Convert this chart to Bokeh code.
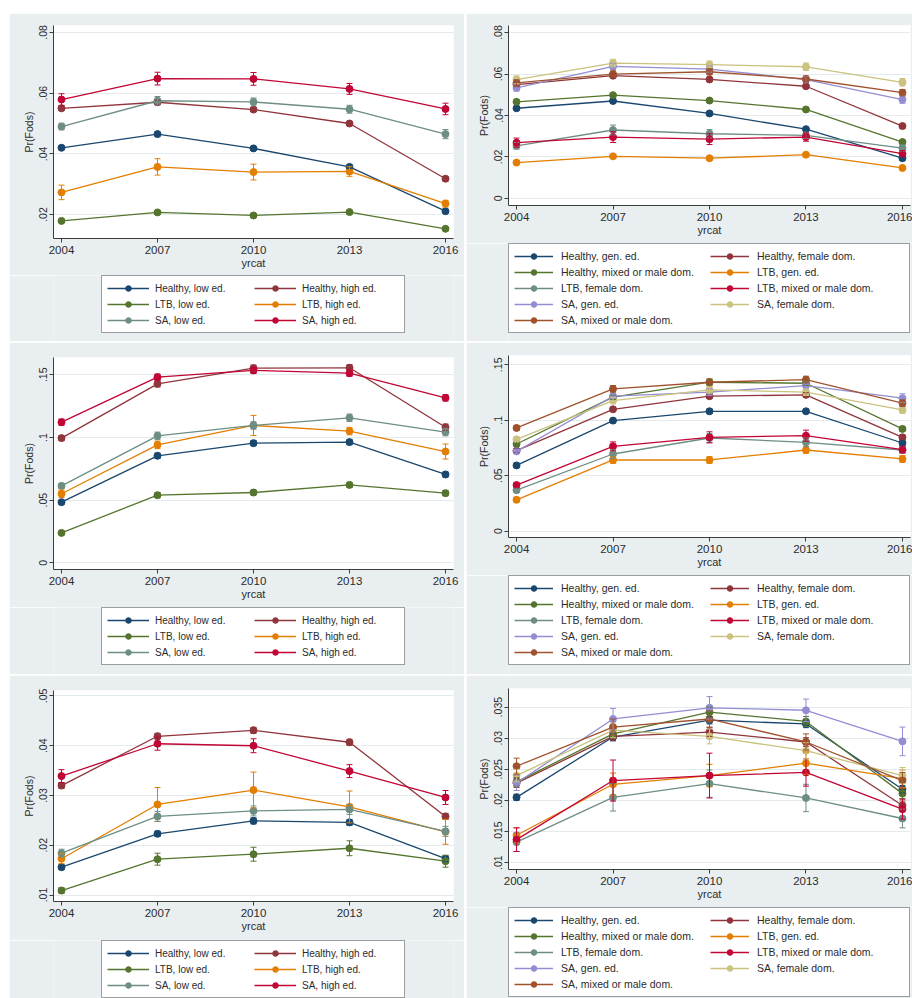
from bokeh.plotting import figure
from bokeh.models import (Range1d, FixedTicker, Legend, LegendItem, Spacer,
                          Whisker, TeeHead, ColumnDataSource)
from bokeh.layouts import column, row
from bokeh.embed import file_html
from bokeh.resources import INLINE

# ---------------- data ----------------
years = [2004, 2007, 2010, 2013, 2016]
x_ticks = [2004, 2007, 2010, 2013, 2016]

ed_labels = ["Healthy, low ed.", "Healthy, high ed.", "LTB, low ed.",
             "LTB, high ed.", "SA, low ed.", "SA, high ed."]
field_labels = ["Healthy, gen. ed.", "Healthy, female dom.",
                "Healthy, mixed or male dom.", "LTB, gen. ed.",
                "LTB, female dom.", "LTB, mixed or male dom.",
                "SA, gen. ed.", "SA, female dom.", "SA, mixed or male dom."]

# top-left panel (education)
p1_values = [
    [.0420, .0465, .0418, .0357, .0211],
    [.0550, .0570, .0546, .0500, .0318],
    [.0179, .0207, .0197, .0208, .0153],
    [.0273, .0357, .0340, .0342, .0236],
    [.0490, .0575, .0571, .0547, .0465],
    [.0579, .0648, .0647, .0614, .0548],
]
p1_errors = [
    [.0006, .0006, .0006, .0006, .0006],
    [.0006, .0007, .0007, .0007, .0007],
    [.0005, .0005, .0005, .0005, .0005],
    [.0024, .0027, .0026, .0016, .0011],
    [.0011, .0014, .0013, .0013, .0015],
    [.0019, .0021, .0021, .0018, .0019],
]
p1_yticks = [.02, .04, .06, .08]

# top-right panel (field)
p2_values = [
    [.0435, .0470, .0410, .0334, .0194],
    [.0549, .0592, .0574, .0541, .0349],
    [.0466, .0498, .0472, .0429, .0272],
    [.0173, .0203, .0194, .0211, .0147],
    [.0254, .0330, .0312, .0304, .0243],
    [.0269, .0296, .0286, .0296, .0216],
    [.0533, .0637, .0624, .0573, .0477],
    [.0573, .0653, .0645, .0635, .0560],
    [.0557, .0600, .0611, .0576, .0510],
]
p2_errors = [
    [.0008, .0008, .0008, .0008, .0008],
    [.0010, .0010, .0010, .0010, .0010],
    [.0008, .0008, .0008, .0008, .0008],
    [.0007, .0007, .0007, .0007, .0007],
    [.0016, .0024, .0020, .0015, .0015],
    [.0022, .0026, .0026, .0020, .0015],
    [.0015, .0015, .0015, .0015, .0018],
    [.0018, .0018, .0018, .0018, .0018],
    [.0015, .0015, .0015, .0015, .0015],
]
p2_yticks = [0, .02, .04, .06, .08]

# middle-left panel (education)
p3_values = [
    [.0484, .0854, .0955, .0963, .0705],
    [.0995, .1428, .1553, .1556, .1082],
    [.0239, .0540, .0561, .0622, .0556],
    [.0551, .0941, .1096, .1051, .0888],
    [.0614, .1013, .1096, .1157, .1043],
    [.1122, .1481, .1535, .1513, .1316],
]
p3_errors = [
    [.0015, .0020, .0020, .0020, .0020],
    [.0020, .0025, .0025, .0025, .0025],
    [.0015, .0020, .0020, .0020, .0020],
    [.0030, .0030, .0080, .0030, .0060],
    [.0020, .0030, .0030, .0030, .0030],
    [.0025, .0025, .0025, .0025, .0025],
]
p3_yticks = [0, .05, .1, .15]

# middle-right panel (field)
p4_values = [
    [.0593, .0997, .1081, .1081, .0795],
    [.0726, .1099, .1217, .1229, .0846],
    [.0786, .1208, .1343, .1334, .0922],
    [.0283, .0642, .0642, .0732, .0651],
    [.0370, .0696, .0840, .0801, .0732],
    [.0416, .0765, .0846, .0861, .0735],
    [.0720, .1217, .1253, .1313, .1199],
    [.0828, .1178, .1274, .1253, .1093],
    [.0931, .1283, .1343, .1367, .1154],
]
p4_errors = [
    [.0020, .0020, .0020, .0020, .0020],
    [.0020, .0020, .0020, .0020, .0020],
    [.0020, .0020, .0020, .0020, .0020],
    [.0020, .0030, .0030, .0030, .0030],
    [.0020, .0040, .0040, .0040, .0030],
    [.0020, .0040, .0050, .0050, .0030],
    [.0020, .0020, .0030, .0030, .0040],
    [.0020, .0030, .0030, .0030, .0030],
    [.0020, .0030, .0030, .0030, .0030],
]
p4_yticks = [0, .05, .1, .15]

# bottom-left panel (education)
p5_values = [
    [.0156, .0223, .0249, .0246, .0173],
    [.0320, .0419, .0431, .0407, .0258],
    [.0109, .0172, .0182, .0194, .0168],
    [.0173, .0282, .0311, .0277, .0227],
    [.0184, .0258, .0269, .0272, .0228],
    [.0339, .0404, .0400, .0349, .0296],
]
p5_errors = [
    [.0005, .0005, .0006, .0006, .0006],
    [.0006, .0006, .0006, .0006, .0006],
    [.0006, .0012, .0014, .0015, .0012],
    [.0010, .0034, .0036, .0032, .0025],
    [.0008, .0010, .0010, .0010, .0010],
    [.0013, .0013, .0014, .0013, .0014],
]
p5_yticks = [.01, .02, .03, .04, .05]

# bottom-right panel (field)
p6_values = [
    [.0205, .0302, .0329, .0323, .0218],
    [.0228, .0303, .0310, .0294, .0192],
    [.0230, .0307, .0342, .0327, .0211],
    [.0144, .0226, .0240, .0260, .0235],
    [.0133, .0205, .0227, .0204, .0171],
    [.0137, .0232, .0240, .0245, .0186],
    [.0228, .0331, .0349, .0345, .0295],
    [.0240, .0313, .0303, .0280, .0240],
    [.0255, .0318, .0331, .0294, .0232],
]
p6_errors = [
    [.0005, .0006, .0006, .0006, .0006],
    [.0007, .0007, .0007, .0007, .0007],
    [.0007, .0007, .0008, .0008, .0008],
    [.0012, .0018, .0018, .0018, .0014],
    [.0015, .0022, .0022, .0022, .0015],
    [.0019, .0033, .0036, .0022, .0016],
    [.0012, .0017, .0018, .0018, .0023],
    [.0010, .0012, .0012, .0013, .0013],
    [.0013, .0013, .0013, .0013, .0013],
]
p6_yticks = [.01, .015, .02, .025, .03, .035]

# Stata s2color palette
palette = ["#1a476f", "#90353b", "#55752f", "#e37e00", "#6e8e84",
           "#c10534", "#938dd2", "#cac27e", "#a0522d"]

BG = "#e9eff1"
TXT = "#2b2b2b"
AX = "#3c3c3c"
FONT = "Liberation Sans"


def tick_label(v):
    if v == 0:
        return "0"
    s = f"{v:g}"
    return s[1:] if s.startswith("0") else s


def make_plot(width, height, left, top, fw, fh, y_range, yticks, values, errors):
    p = figure(width=width, height=height, output_backend="svg",
               toolbar_location=None,
               x_range=Range1d(2003.75, 2016.25),
               y_range=Range1d(*y_range),
               min_border_left=left, min_border_top=top,
               min_border_right=width - left - fw,
               min_border_bottom=height - top - fh)
    p.border_fill_color = BG
    p.background_fill_color = "white"
    p.outline_line_color = None

    for ax in (p.xaxis[0], p.yaxis[0]):
        ax.axis_line_color = AX
        ax.major_tick_line_color = AX
        ax.major_tick_out = 4
        ax.major_tick_in = 0
        ax.minor_tick_line_color = None
        ax.major_label_text_color = TXT
        ax.major_label_text_font = FONT
        ax.axis_label_text_color = TXT
        ax.axis_label_text_font = FONT
        ax.axis_label_text_font_style = "normal"

    p.xaxis.ticker = FixedTicker(ticks=x_ticks)
    p.xaxis.major_label_text_font_size = "11.5px"
    p.xaxis.major_label_standoff = 3
    p.xaxis.axis_label = "yrcat"
    p.xaxis.axis_label_text_font_size = "11px"
    p.xaxis.axis_label_standoff = 0

    p.yaxis.ticker = FixedTicker(ticks=yticks)
    p.yaxis.major_label_overrides = {t: tick_label(t) for t in yticks}
    p.yaxis.major_label_orientation = "vertical"
    p.yaxis.major_label_text_font_size = "10.5px"
    p.yaxis.major_label_standoff = 2
    p.yaxis.axis_label = "Pr(Fods)"
    p.yaxis.axis_label_text_font_size = "10.5px"
    p.yaxis.axis_label_standoff = 2

    p.xgrid.grid_line_color = None
    p.ygrid.ticker = FixedTicker(ticks=yticks)
    p.ygrid.grid_line_color = "#e4ebee"
    p.ygrid.grid_line_width = 1

    for vals, errs, col in zip(values, errors, palette):
        src = ColumnDataSource(dict(
            x=years, y=vals,
            lo=[v - e for v, e in zip(vals, errs)],
            hi=[v + e for v, e in zip(vals, errs)]))
        w = Whisker(source=src, base="x", lower="lo", upper="hi",
                    line_color=col, line_width=1, level="glyph",
                    upper_head=TeeHead(size=6, line_color=col, line_width=1),
                    lower_head=TeeHead(size=6, line_color=col, line_width=1))
        p.add_layout(w)
        p.line("x", "y", source=src, line_color=col, line_width=1.3)
        p.scatter("x", "y", source=src, marker="circle", size=7,
                  fill_color=col, line_color=col)
    return p


def make_legend(width, height, left, fw, labels, values, font_size, glyph_w,
                standoff, pad, label_w):
    # legend strip below each plot; its series lie outside this strip's
    # (0..1) ranges, so only their legend glyphs are visible
    lf = figure(width=width, height=height, output_backend="svg",
                toolbar_location=None, x_axis_location=None,
                y_axis_location=None,
                x_range=Range1d(0, 1), y_range=Range1d(0, 1),
                min_border_left=left, min_border_right=width - left - fw,
                min_border_top=0, min_border_bottom=0)
    lf.border_fill_color = BG
    lf.background_fill_color = BG
    lf.outline_line_color = None
    lf.grid.grid_line_color = None
    items = []
    for lab, vals, col in zip(labels, values, palette):
        lr = lf.line(x=years, y=vals, line_color=col, line_width=1.3)
        sr = lf.scatter(x=years, y=vals, marker="circle", size=5,
                        fill_color=col, line_color=col)
        items.append(LegendItem(label=lab, renderers=[lr, sr]))
    legend = Legend(items=items, ncols=2, orientation="horizontal",
                    location="top_center", margin=0,
                    padding=pad, spacing=2,
                    glyph_width=glyph_w, glyph_height=14,
                    label_height=14, label_width=label_w,
                    label_standoff=standoff,
                    label_text_font=FONT, label_text_font_size=font_size,
                    label_text_color=TXT,
                    border_line_color=AX, border_line_width=1,
                    background_fill_color="white", background_fill_alpha=1)
    lf.add_layout(legend, "center")
    return lf


LW, RW = 455, 446
LL, LF = 44, 400      # left column frame: left border, frame width
RL, RF = 42, 402      # right column frame

p1 = make_plot(LW, 262, LL, 12, LF, 213, (.0121, .0823), p1_yticks,
               p1_values, p1_errors)
l1 = make_legend(LW, 66, LL, LF, ed_labels, p1_values, "10px", 42, 6, 5, 97)
p3 = make_plot(LW, 265, LL, 15, LF, 212, (-.0053, .1638), p3_yticks,
               p3_values, p3_errors)
l3 = make_legend(LW, 67, LL, LF, ed_labels, p3_values, "10px", 42, 6, 5, 97)
p5 = make_plot(LW, 265, LL, 15, LF, 211, (.0087, .0511), p5_yticks,
               p5_values, p5_errors)
l5 = make_legend(LW, 58, LL, LF, ed_labels, p5_values, "10px", 42, 6, 5, 97)

p2 = make_plot(RW, 230, RL, 12, RF, 180, (-.0034, .0834), p2_yticks,
               p2_values, p2_errors)
l2 = make_legend(RW, 98, RL, RF, field_labels, p2_values, "10.5px", 39, 8, 5, 147)
p4 = make_plot(RW, 233, RL, 13, RF, 182, (-.0057, .1584), p4_yticks,
               p4_values, p4_errors)
l4 = make_legend(RW, 99, RL, RF, field_labels, p4_values, "10.5px", 39, 8, 5, 147)
p6 = make_plot(RW, 232, RL, 13, RF, 181, (.0089, .0380), p6_yticks,
               p6_values, p6_errors)
l6 = make_legend(RW, 91, RL, RF, field_labels, p6_values, "10.5px", 39, 8, 5, 147)

left_col = column(Spacer(width=LW, height=13), p1, l1, Spacer(width=LW, height=1),
                  p3, l3, Spacer(width=LW, height=1), p5, l5)
right_col = column(Spacer(width=RW, height=13), p2, l2, Spacer(width=RW, height=1),
                   p4, l4, Spacer(width=RW, height=1), p6, l6)
layout = row(Spacer(width=9, height=10), left_col,
             Spacer(width=2, height=10), right_col)

open("out.html", "w").write(file_html(layout, INLINE))
